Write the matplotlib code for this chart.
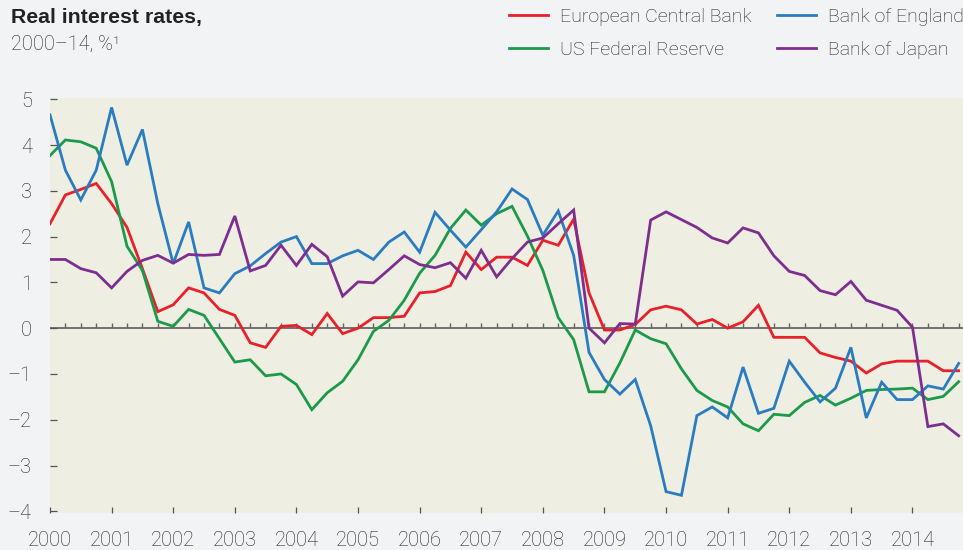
import numpy as np
import matplotlib.pyplot as plt
from matplotlib.lines import Line2D

# quarterly observations, 2000Q1 .. 2014Q4
quarters = 2000 + np.arange(60) / 4

ecb = [2.28, 2.91, 3.03, 3.16, 2.72, 2.20, 1.30, 0.36, 0.51, 0.88,
       0.77, 0.41, 0.28, -0.32, -0.42, 0.04, 0.06, -0.14, 0.32, -0.12,
       0.00, 0.23, 0.23, 0.26, 0.77, 0.80, 0.93, 1.66, 1.28, 1.55,
       1.55, 1.37, 1.92, 1.81, 2.38, 0.77, -0.04, -0.04, 0.08, 0.40,
       0.48, 0.40, 0.09, 0.19, 0.00, 0.14, 0.50, -0.20, -0.20, -0.20,
       -0.54, -0.64, -0.72, -0.98, -0.78, -0.72, -0.72, -0.72, -0.93, -0.93]

fed = [3.77, 4.11, 4.07, 3.93, 3.20, 1.79, 1.26, 0.15, 0.04, 0.41,
       0.28, -0.23, -0.74, -0.69, -1.04, -1.00, -1.23, -1.78, -1.41, -1.16,
       -0.69, -0.07, 0.17, 0.61, 1.20, 1.59, 2.18, 2.58, 2.25, 2.50,
       2.66, 2.01, 1.26, 0.23, -0.25, -1.39, -1.39, -0.76, -0.04, -0.23,
       -0.34, -0.89, -1.36, -1.58, -1.72, -2.09, -2.24, -1.88, -1.91, -1.62,
       -1.47, -1.68, -1.53, -1.36, -1.34, -1.33, -1.31, -1.56, -1.49, -1.17]

boe = [4.66, 3.45, 2.80, 3.45, 4.82, 3.56, 4.34, 2.72, 1.41, 2.32,
       0.88, 0.77, 1.19, 1.36, 1.63, 1.88, 2.00, 1.41, 1.41, 1.58,
       1.70, 1.50, 1.88, 2.10, 1.66, 2.53, 2.14, 1.77, 2.15, 2.54,
       3.04, 2.81, 2.03, 2.56, 1.59, -0.53, -1.12, -1.44, -1.12, -2.13,
       -3.57, -3.65, -1.91, -1.72, -1.96, -0.85, -1.86, -1.75, -0.72, -1.18,
       -1.61, -1.31, -0.42, -1.96, -1.18, -1.56, -1.56, -1.26, -1.33, -0.77]

boj = [1.50, 1.50, 1.30, 1.21, 0.88, 1.24, 1.48, 1.59, 1.42, 1.61,
       1.59, 1.61, 2.45, 1.25, 1.37, 1.81, 1.37, 1.83, 1.56, 0.70,
       1.01, 0.99, 1.28, 1.58, 1.39, 1.32, 1.43, 1.09, 1.70, 1.12,
       1.52, 1.88, 1.97, 2.28, 2.58, 0.00, -0.32, 0.10, 0.09, 2.36,
       2.54, 2.37, 2.20, 1.97, 1.86, 2.19, 2.08, 1.58, 1.24, 1.15,
       0.82, 0.73, 1.02, 0.61, 0.50, 0.39, 0.02, -2.15, -2.09, -2.35]

years = list(range(2000, 2015))
yticks = list(range(-4, 6))
ylabels = ['–4', '–3', '–2', '–1', '0', '1', '2', '3', '4', '5']

plt.rcParams['font.family'] = ['Roboto', 'Liberation Sans', 'DejaVu Sans']

fig = plt.figure(figsize=(9.63, 5.5), dpi=100, facecolor='#f2f3f5')
ax = fig.add_axes([50 / 963, 37.3 / 550, 913 / 963, 414.4 / 550])
ax.set_facecolor('#efeee3')

series = [
    (ecb, 'European Central Bank', '#e8202a'),
    (fed, 'US Federal Reserve', '#1b9a4a'),
    (boe, 'Bank of England', '#2a7cc1'),
    (boj, 'Bank of Japan', '#7d2e8f'),
]

# zero line with quarterly ticks
ax.axhline(0, color='#666666', lw=1.3, zorder=1)
ax.vlines(quarters[1:], 0, 0.11, color='#666666', lw=1.0, zorder=1)

handles = []
for vals, name, col in series:
    ax.plot(quarters, vals, color=col, lw=2.0, zorder=3, solid_joinstyle='miter')
    handles.append(Line2D([], [], color=col, lw=2.0, label=name))

ax.set_xlim(2000, 2014.82)
ax.set_ylim(-4.03, 5.02)

ax.set_xticks(years)
ax.set_xticklabels([str(y) for y in years], fontweight='light')
ax.set_yticks(yticks)
ax.set_yticklabels(ylabels, fontweight='light')
ax.tick_params(axis='x', direction='in', length=4.3, width=0.9, color='#555555',
               pad=13.4, labelsize=14.5, labelcolor='#222222')
ax.tick_params(axis='y', direction='in', length=5, width=0.9, color='#555555',
               pad=13, labelsize=14.5, labelcolor='#222222')
for s in ax.spines.values():
    s.set_visible(False)

fig.text(11 / 963, 1 - 23.3 / 550, 'Real interest rates,', fontsize=15.3,
         fontweight='bold', family=['Liberation Sans', 'DejaVu Sans'],
         color='#222222', va='baseline')
fig.text(11 / 963, 1 - 50 / 550, '2000–14, %¹', fontsize=14.3, fontweight='light',
         color='#222222', va='baseline')

fig.legend(handles=handles, loc='upper left', bbox_to_anchor=(509 / 963, 1 - 8 / 550),
           ncol=2, frameon=False, prop={'size': 14, 'weight': 'light'},
           handlelength=2.0, handletextpad=0.6, columnspacing=1.35, labelspacing=0.78,
           borderpad=0, borderaxespad=0, labelcolor='#222222')

fig.savefig('out.png', dpi=100, facecolor=fig.get_facecolor())
